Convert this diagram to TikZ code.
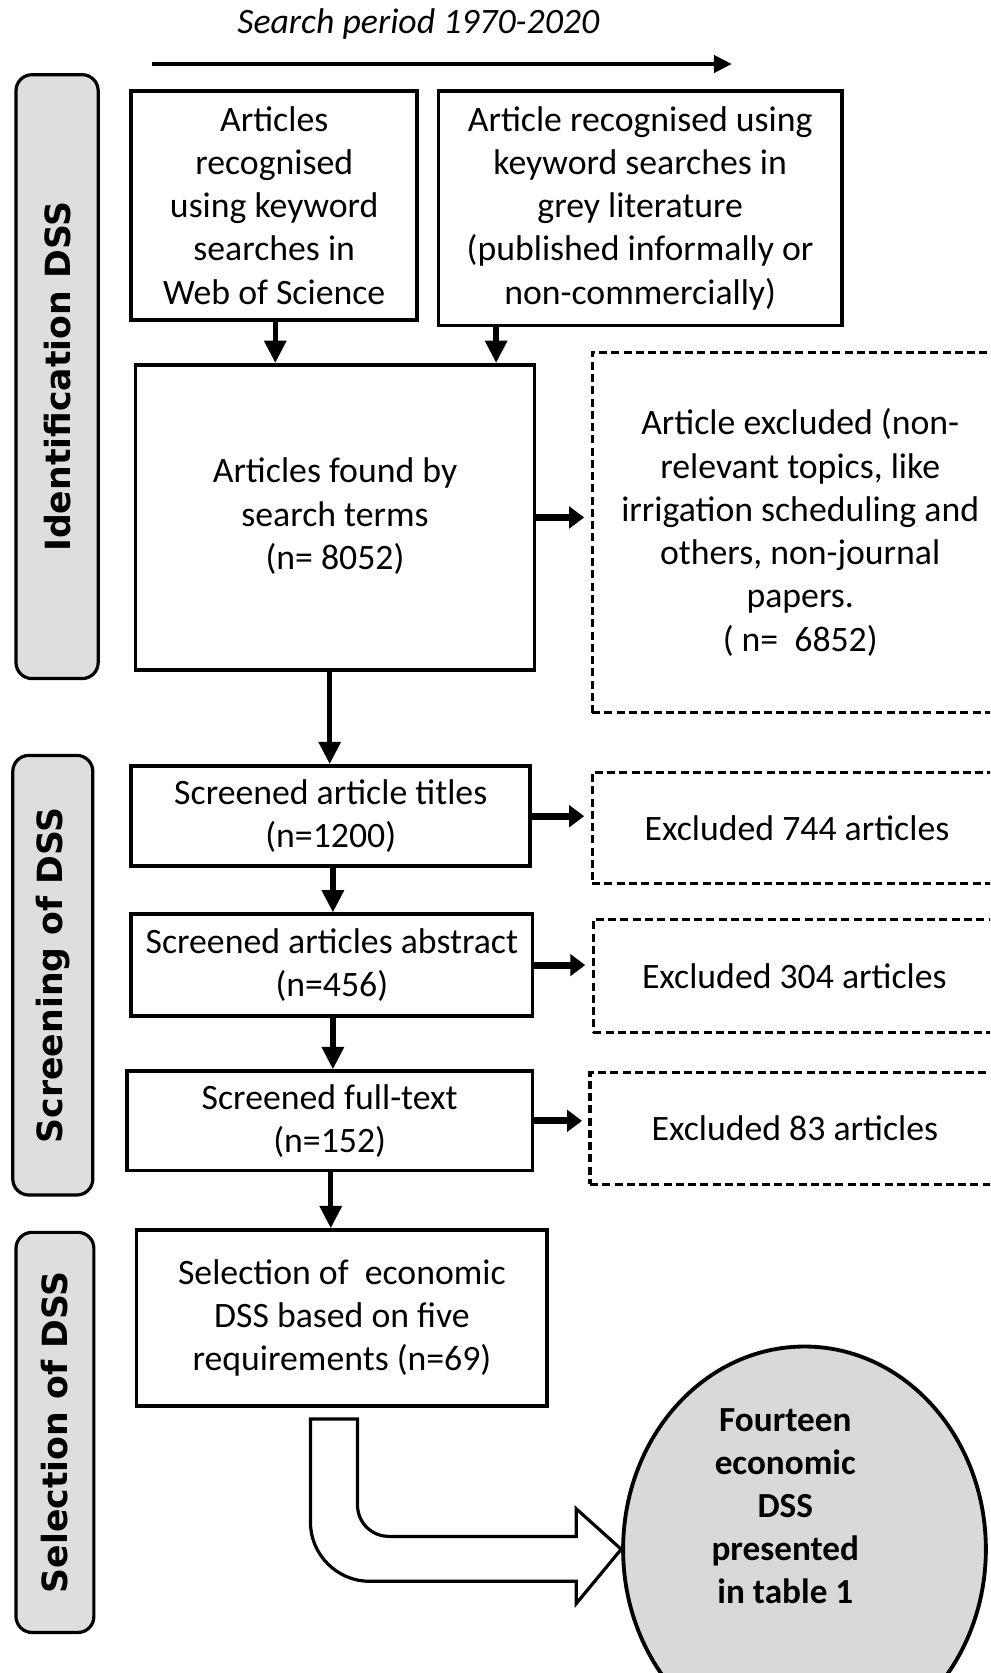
\documentclass[tikz,border=0pt]{standalone}
\usepackage{fontspec}
\setmainfont{Carlito}
\newfontfamily\sidefont{DejaVu Sans}
\usetikzlibrary{arrows.meta,shapes.geometric,calc}
\definecolor{sidegray}{HTML}{DFDDDE}
\definecolor{circgray}{HTML}{D9D9D9}
\begin{document}
\begin{tikzpicture}[x=1pt,y=-1pt,
  boxa/.style={draw, line width=3.6pt, align=center, inner sep=0pt, font=\fontsize{33.5}{40.5}\selectfont},
  dbox/.style={draw, dash pattern=on 7.5pt off 4pt, line width=3pt, align=center, inner sep=0pt, font=\fontsize{33.5}{40.5}\selectfont},
  side/.style={draw, line width=3pt, rounded corners=15pt, fill=sidegray, rotate=90, inner sep=0pt, font=\sidefont\bfseries\fontsize{32.5}{36}\selectfont},
  arr/.style={line width=5pt, -{Triangle[length=21pt,width=20pt]}},
  rarr/.style={line width=6.5pt, -{Triangle[length=14pt,width=20pt]}, shorten >=6pt}
]
\useasboundingbox (0,0) rectangle (928,1568);
\clip (0,0) rectangle (928,1568);

% title and period arrow
\node[font=\itshape\fontsize{33.5}{36}\selectfont] (title) at (392,22) {Search period 1970-2020};
\coordinate (ta) at (142,60);
\coordinate (tb) at (686,60);
\draw[line width=4.5pt, -{Triangle[length=17pt,width=16pt]}] (ta) -- (tb);

% side bars
\node[side, minimum width=566pt, minimum height=77pt] (s1) at (53.5,353) {Identification DSS};
\node[side, minimum width=412pt, minimum height=75pt] (s2) at (49.5,914) {Screening of DSS};
\node[side, minimum width=375pt, minimum height=73pt] (s3) at (51.5,1342.5) {Selection of DSS};

% boxes
\node[boxa, minimum width=268pt, minimum height=215pt] (topa) at (257,192.5)
  {Articles\\recognised\\using keyword\\searches in\\Web of Science};
\node[boxa, minimum width=378pt, minimum height=220pt] (topb) at (600,195)
  {Article recognised using\\keyword searches in\\grey literature\\(published informally or\\non-commercially)};
\node[boxa, minimum width=374pt, minimum height=286pt] (found) at (314,485)
  {\raisebox{9pt}{\begin{tabular}{@{}c@{}}Articles found by\\search terms\\(n= 8052)\end{tabular}}};
\node[dbox, minimum width=390pt, minimum height=338pt] (ex1) at (750,499)
  {Article excluded (non-\\relevant topics, like\\irrigation scheduling and\\others, non-journal\\papers.\\( n=~ 6852)};

\node[boxa, minimum width=374pt, minimum height=94pt] (titles) at (310,765)
  {Screened article titles\\(n=1200)};
\node[dbox, minimum width=390pt, minimum height=104pt] (ex2) at (750,776)
  {\hspace*{-6pt}Excluded 744 articles};

\node[boxa, minimum width=376pt, minimum height=95pt] (abstr) at (311,904.5)
  {Screened articles abstract\\(n=456)};
\node[dbox, minimum width=389pt, minimum height=106pt] (ex3) at (750.5,915)
  {\hspace*{-12pt}Excluded 304 articles};

\node[boxa, minimum width=380pt, minimum height=93pt] (full) at (309,1050.5)
  {Screened full-text\\(n=152)};
\node[dbox, minimum width=392pt, minimum height=105pt] (ex4) at (749,1057.5)
  {\hspace*{-8pt}Excluded 83 articles};

\node[boxa, minimum width=385pt, minimum height=165pt] (sel) at (320.5,1235.5)
  {Selection of~ economic\\DSS based on five\\requirements (n=69)};

% result ellipse
\node[ellipse, draw, line width=3.6pt, fill=circgray, minimum width=340pt, minimum height=380pt, inner sep=0pt] (res) at (754,1452) {};
\node[font=\bfseries\fontsize{33}{40.3}\selectfont, align=center] (restext) at (736,1412)
  {Fourteen\\economic\\DSS\\presented\\in table 1};

% connectors
\coordinate (a1) at (258,0);
\coordinate (a2) at (465,0);
\draw[arr] (a1 |- topa.south) -- (a1 |- found.north);
\draw[arr] (a2 |- topb.south) -- (a2 |- found.north);
\draw[rarr] (found.east) -- (found.east -| ex1.west);
\draw[arr] (found.south -| 309,0) -- (titles.north -| 309,0);
\draw[rarr] (titles.east) -- (titles.east -| ex2.west);
\draw[arr] (titles.south -| 312,0) -- (abstr.north -| 312,0);
\draw[rarr] (abstr.east) -- (abstr.east -| ex3.west);
\draw[arr] (abstr.south -| 312,0) -- (full.north -| 312,0);
\draw[rarr] (full.east) -- (full.east -| ex4.west);
\draw[arr] (full.south -| 310,0) -- (sel.north -| 310,0);

% hollow bent arrow
\draw[line width=3pt, fill=white, line join=miter]
  (291,1330) -- (291,1427) .. controls (291,1457) and (316,1482) .. (346,1482)
  -- (540,1482) -- (540,1503) -- (res.west) -- (540,1414) -- (540,1440)
  -- (365,1440) .. controls (348,1440) and (335,1427) .. (335,1410)
  -- (335,1330) -- cycle;
\end{tikzpicture}
\end{document}
